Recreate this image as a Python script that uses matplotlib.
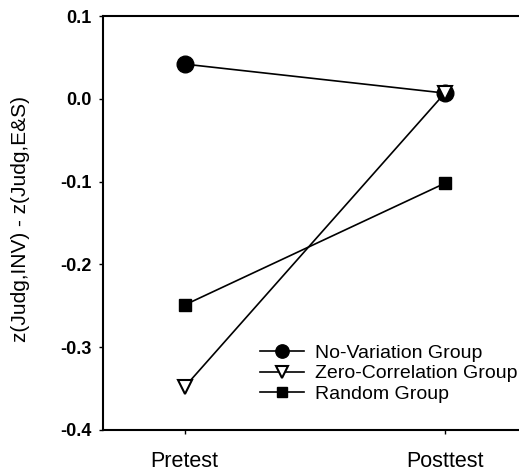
import matplotlib
matplotlib.use("Agg")
import matplotlib.pyplot as plt

# ====== data ======
phases = ["Pretest", "Posttest"]
x_pos = [1, 2]
no_variation = [0.042, 0.007]
zero_corr = [-0.348, 0.007]
random_grp = [-0.249, -0.102]
y_ticks = [-0.4, -0.3, -0.2, -0.1, 0.0, 0.1]
# ==================

plt.rcParams["font.family"] = ["Liberation Sans", "DejaVu Sans"]

fig = plt.figure(figsize=(5.19, 4.74), dpi=100)
ax = fig.add_axes([0.198, 0.093, 0.802, 0.873])

ax.plot(x_pos, no_variation, "-o", color="black", lw=1.2, ms=12,
        label="No-Variation Group", zorder=3)
ax.plot(x_pos, zero_corr, "-v", color="black", lw=1.2, ms=10,
        mfc="white", mec="black", mew=1.5, label="Zero-Correlation Group", zorder=4)
ax.plot(x_pos, random_grp, "-s", color="black", lw=1.2, ms=9,
        label="Random Group", zorder=3)

ax.set_xlim(0.685, 2.285)
ax.set_ylim(-0.4, 0.1)
ax.set_xticks(x_pos)
ax.set_xticklabels(phases, fontsize=15.5)
ax.set_yticks(y_ticks)
ax.set_yticklabels([f"{v:.1f}" for v in y_ticks], fontsize=13, fontweight="bold")
ax.tick_params(axis="y", direction="out", length=3, width=1, pad=5)
ax.tick_params(axis="x", direction="out", length=3, width=1, pad=12)
ax.spines["right"].set_visible(False)
for s in ["left", "top", "bottom"]:
    ax.spines[s].set_linewidth(1.5)

ax.set_ylabel("z(Judg,INV) - z(Judg,E&S)", fontsize=15)
ax.yaxis.set_label_coords(-0.175, 0.51)

ax.legend(loc="center left", bbox_to_anchor=(0.377, 0.136), frameon=False,
          fontsize=14, handlelength=2.3, handletextpad=0.55, labelspacing=0.15,
          borderaxespad=0, borderpad=0, markerscale=0.8)

fig.savefig("out.png", dpi=100)
